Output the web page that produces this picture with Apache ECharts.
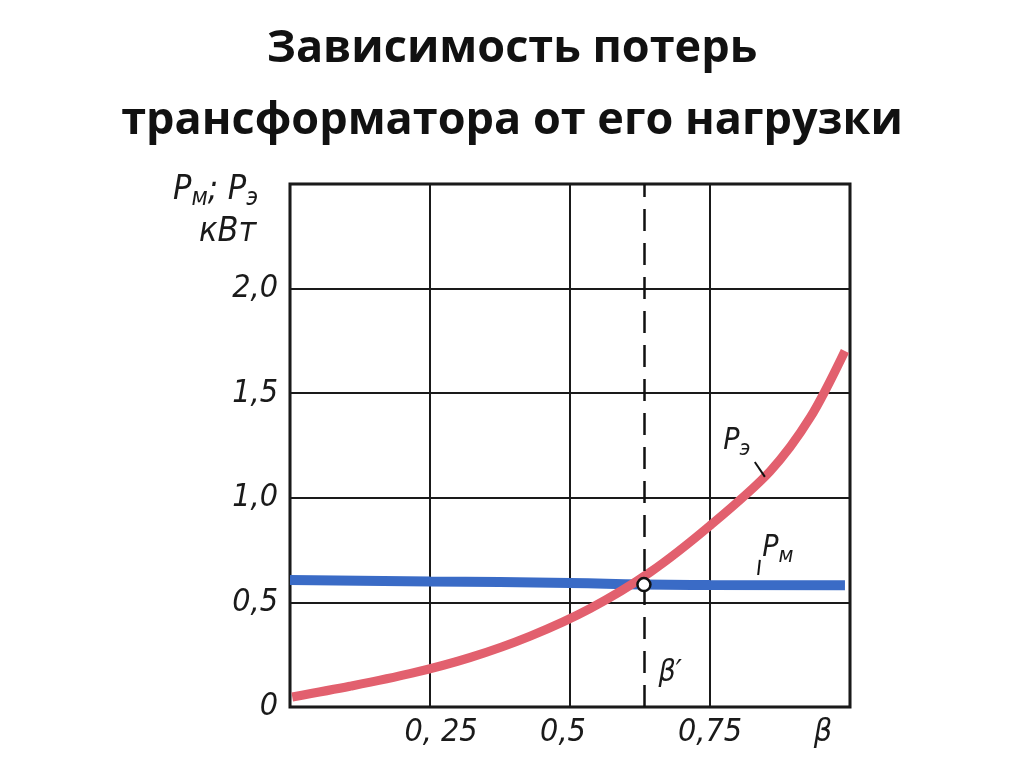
<!DOCTYPE html>
<html><head><meta charset="utf-8">
<script src="https://cdn.jsdelivr.net/npm/echarts@6/dist/echarts.min.js"></script>
<style>html,body{margin:0;padding:0;background:#fff}#c{width:1024px;height:767px}</style>
</head><body><div id="c"></div>
<script>
const titleLines = ['Зависимость потерь', 'трансформатора от его нагрузки'];
const xTicks = [0, 0.25, 0.5, 0.75, 1.0];
const xTickLabels = ['', '0, 25', '0,5', '0,75', 'β'];
const yTickLabels = ['0', '0,5', '1,0', '1,5', '2,0', ''];
// Pэ (load / copper losses)
const betaE = [0.004, 0.107, 0.214, 0.321, 0.429, 0.536, 0.643, 0.75, 0.857, 0.929, 0.991];
const pE    = [0.048, 0.099, 0.159, 0.236, 0.339, 0.471, 0.644, 0.867, 1.126, 1.384, 1.702];
// Pм (no-load / magnetic losses)
const betaM = [0, 0.25, 0.5, 0.632, 0.75, 0.991];
const pM    = [0.607, 0.600, 0.593, 0.585, 0.583, 0.582];
const betaOpt = 0.632, pOpt = 0.585;

const lbl = {fontFamily:'DejaVu Sans Condensed', fontStyle:'italic', fontWeight:'normal', color:'#1a1a1a'};
const chart = echarts.init(document.getElementById('c'));
chart.setOption({
  animation:false,
  backgroundColor:'#fff',
  title:[
    {text:titleLines.join('\n'), left:'center', top:8,
     textStyle:{fontFamily:'Open Sans', fontWeight:700, fontSize:45, lineHeight:72, color:'#111'}},
    {text:'{p|P}{s|м}{p|; P}{s|э}\n{k|кВт}', left:168, top:164,
     textStyle:{fontWeight:'normal', rich:{
       p:Object.assign({fontSize:34, lineHeight:42}, lbl),
       s:Object.assign({fontSize:24, lineHeight:42, verticalAlign:'bottom', padding:[14,0,0,0]}, lbl),
       k:Object.assign({fontSize:34, lineHeight:42, padding:[0,0,0,26]}, lbl)}}}
  ],
  grid:{left:290, right:174, top:184, bottom:60, show:true, borderColor:'#111', borderWidth:3, backgroundColor:'transparent'},
  xAxis:{type:'value', min:0, max:1, interval:0.25,
    axisLine:{show:false}, axisTick:{show:false},
    splitLine:{show:true, lineStyle:{color:'#1a1a1a', width:2}},
    axisLabel:{margin:10,
      formatter:function(v){const i=xTicks.indexOf(Math.round(v*100)/100);
        const t=i>=0?xTickLabels[i]:''; if(!t) return '';
        if(i===1) return '{a|'+t+'}'; if(i===2) return '{b|'+t+'}'; if(i===4) return '{c|'+t+'}'; return '{d|'+t+'}';},
      rich:{
        a:Object.assign({fontSize:32, padding:[0,0,0,22]}, lbl),
        b:Object.assign({fontSize:32, padding:[0,14,0,0]}, lbl),
        c:Object.assign({fontSize:32, padding:[0,54,0,0]}, lbl),
        d:Object.assign({fontSize:32}, lbl)}}},
  yAxis:{type:'value', min:0, max:2.5, interval:0.5,
    axisLine:{show:false}, axisTick:{show:false},
    splitLine:{show:true, lineStyle:{color:'#1a1a1a', width:2}},
    axisLabel:Object.assign({fontSize:32, margin:12,
      formatter:function(v){return yTickLabels[Math.round(v/0.5)]||'';}}, lbl)},
  series:[
    {type:'line', name:'Pм', data:betaM.map((x,i)=>[x,pM[i]]), showSymbol:false, smooth:true,
     lineStyle:{color:'#3a6bc6', width:10, cap:'butt'}, z:3,
     markLine:{silent:true, symbol:['none','none'], label:{show:false},
       data:[
         [{xAxis:betaOpt, yAxis:0, lineStyle:{color:'#111', width:2.5, type:[22,12]}},
          {xAxis:betaOpt, yAxis:2.5}],
         [{coord:[0.839,0.703], lineStyle:{color:'#111', width:2, type:'solid'}},{coord:[0.836,0.631]}],
         [{coord:[0.830,1.171], lineStyle:{color:'#111', width:2, type:'solid'}},{coord:[0.848,1.100]}]
       ]},
     markPoint:{silent:true, data:[
       {coord:[0.871,0.760], symbol:'circle', symbolSize:1, itemStyle:{color:'transparent'},
        label:{show:true, formatter:'{p|P}{s|м}', rich:{
          p:Object.assign({fontSize:30}, lbl), s:Object.assign({fontSize:22, padding:[16,0,0,0]}, lbl)}}},
       {coord:[0.798,1.27], symbol:'circle', symbolSize:1, itemStyle:{color:'transparent'},
        label:{show:true, formatter:'{p|P}{s|э}', rich:{
          p:Object.assign({fontSize:30}, lbl), s:Object.assign({fontSize:22, padding:[16,0,0,0]}, lbl)}}},
       {coord:[0.679,0.163], symbol:'circle', symbolSize:1, itemStyle:{color:'transparent'},
        label:Object.assign({show:true, formatter:'β′', fontSize:30}, lbl)}
     ]}},
    {type:'line', name:'Pэ', data:betaE.map((x,i)=>[x,pE[i]]), showSymbol:false, smooth:0.3,
     lineStyle:{color:'#e2606e', width:9, cap:'butt'}, z:4,
     markPoint:{silent:true, data:[
       {coord:[betaOpt,pOpt], symbol:'circle', symbolSize:13,
        itemStyle:{color:'#fff', borderColor:'#111', borderWidth:2.5}, label:{show:false}}]}}
  ]
});
</script></body></html>
